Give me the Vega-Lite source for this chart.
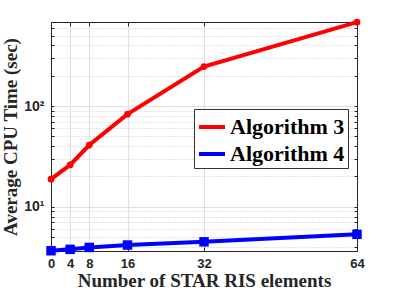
{
  "$schema": "https://vega.github.io/schema/vega-lite/v6.json",
  "width": 306,
  "height": 229,
  "autosize": {"type": "none"},
  "padding": {"left": 51, "top": 22, "right": 38, "bottom": 45},
  "background": "white",
  "config": {
    "font": "Liberation Serif",
    "view": {"stroke": null},
    "legend": {
      "labelFont": "Liberation Serif", "labelFontWeight": "bold", "labelFontSize": 22, "labelColor": "black",
      "symbolType": "stroke", "symbolStrokeWidth": 4, "symbolSize": 676,
      "strokeColor": "#333333", "fillColor": "white", "padding": 3, "rowPadding": 1, "labelOffset": 3
    }
  },
  "data": {
    "values": [
      {"n": 0, "t": 18.8, "alg": "Algorithm 3"},
      {"n": 4, "t": 26, "alg": "Algorithm 3"},
      {"n": 8, "t": 41, "alg": "Algorithm 3"},
      {"n": 16, "t": 83, "alg": "Algorithm 3"},
      {"n": 32, "t": 246, "alg": "Algorithm 3"},
      {"n": 64, "t": 680, "alg": "Algorithm 3"},
      {"n": 0, "t": 3.66, "alg": "Algorithm 4"},
      {"n": 4, "t": 3.78, "alg": "Algorithm 4"},
      {"n": 8, "t": 3.95, "alg": "Algorithm 4"},
      {"n": 16, "t": 4.17, "alg": "Algorithm 4"},
      {"n": 32, "t": 4.49, "alg": "Algorithm 4"},
      {"n": 64, "t": 5.33, "alg": "Algorithm 4"}
    ]
  },
  "layer": [
    {
      "mark": {"type": "line", "strokeWidth": 4, "clip": false},
      "encoding": {
        "x": {
          "field": "n", "type": "quantitative",
          "scale": {"domain": [0, 64], "nice": false, "zero": false},
          "axis": {
            "orient": "bottom", "values": [0, 4, 8, 16, 32, 64],
            "title": "Number of STAR RIS elements",
            "titleFont": "Liberation Serif", "titleFontWeight": "bold", "titleFontSize": 19, "titleColor": "#262626", "titlePadding": 1,
            "labelFont": "Liberation Sans", "labelFontWeight": "bold", "labelFontSize": 13, "labelColor": "#262626",
            "labelFlush": false, "labelOverlap": false, "labelPadding": 10,
            "tickSize": -4, "tickColor": "#262626", "domainColor": "#262626",
            "grid": true, "gridColor": "#dfdfdf", "gridOpacity": 1
          }
        },
        "y": {
          "field": "t", "type": "quantitative",
          "scale": {"type": "log", "domain": [3.64, 682], "nice": false},
          "axis": {
            "orient": "left",
            "values": [4, 5, 6, 7, 8, 9, 10, 20, 30, 40, 50, 60, 70, 80, 90, 100, 200, 300, 400, 500, 600],
            "labelExpr": "datum.value == 10 ? '10¹' : datum.value == 100 ? '10²' : ''",
            "title": "Average CPU Time (sec)",
            "titleFont": "Liberation Serif", "titleFontWeight": "bold", "titleFontSize": 19, "titleColor": "#262626", "titlePadding": 3,
            "labelFont": "Liberation Sans", "labelFontWeight": "bold", "labelFontSize": 14, "labelColor": "#262626",
            "labelFlush": false, "labelOverlap": false, "labelPadding": 10,
            "tickSize": -3, "tickColor": "#262626", "domainColor": "#262626",
            "grid": true,
            "gridColor": {"condition": {"test": "datum.value == 10 || datum.value == 100", "value": "#dfdfdf"}, "value": "#c8c8c8"},
            "gridDash": {"condition": {"test": "datum.value == 10 || datum.value == 100", "value": []}, "value": [1, 2]}
          }
        },
        "color": {
          "field": "alg", "type": "nominal",
          "scale": {"domain": ["Algorithm 3", "Algorithm 4"], "range": ["#ff0000", "#0000ff"]},
          "legend": {"title": null, "orient": "none", "legendX": 143, "legendY": 87}
        }
      }
    },
    {
      "mark": {"type": "point", "filled": true, "opacity": 1, "clip": false},
      "encoding": {
        "x": {
          "field": "n", "type": "quantitative",
          "axis": {"orient": "top", "values": [0, 4, 8, 16, 32, 64], "labels": false, "title": null, "grid": false, "tickSize": -4, "tickColor": "#262626", "domainColor": "#262626"}
        },
        "y": {
          "field": "t", "type": "quantitative",
          "axis": {"orient": "right", "values": [4, 5, 6, 7, 8, 9, 10, 20, 30, 40, 50, 60, 70, 80, 90, 100, 200, 300, 400, 500, 600], "labels": false, "title": null, "grid": false, "tickSize": -3, "tickColor": "#262626", "domainColor": "#262626"}
        },
        "color": {
          "field": "alg", "type": "nominal",
          "legend": {"title": null, "orient": "none", "legendX": 143, "legendY": 87}
        },
        "shape": {"field": "alg", "type": "nominal", "scale": {"range": ["circle", "square"]}, "legend": null},
        "size": {"field": "alg", "type": "nominal", "scale": {"range": [45, 90]}, "legend": null}
      }
    }
  ],
  "resolve": {"axis": {"x": "independent", "y": "independent"}}
}
